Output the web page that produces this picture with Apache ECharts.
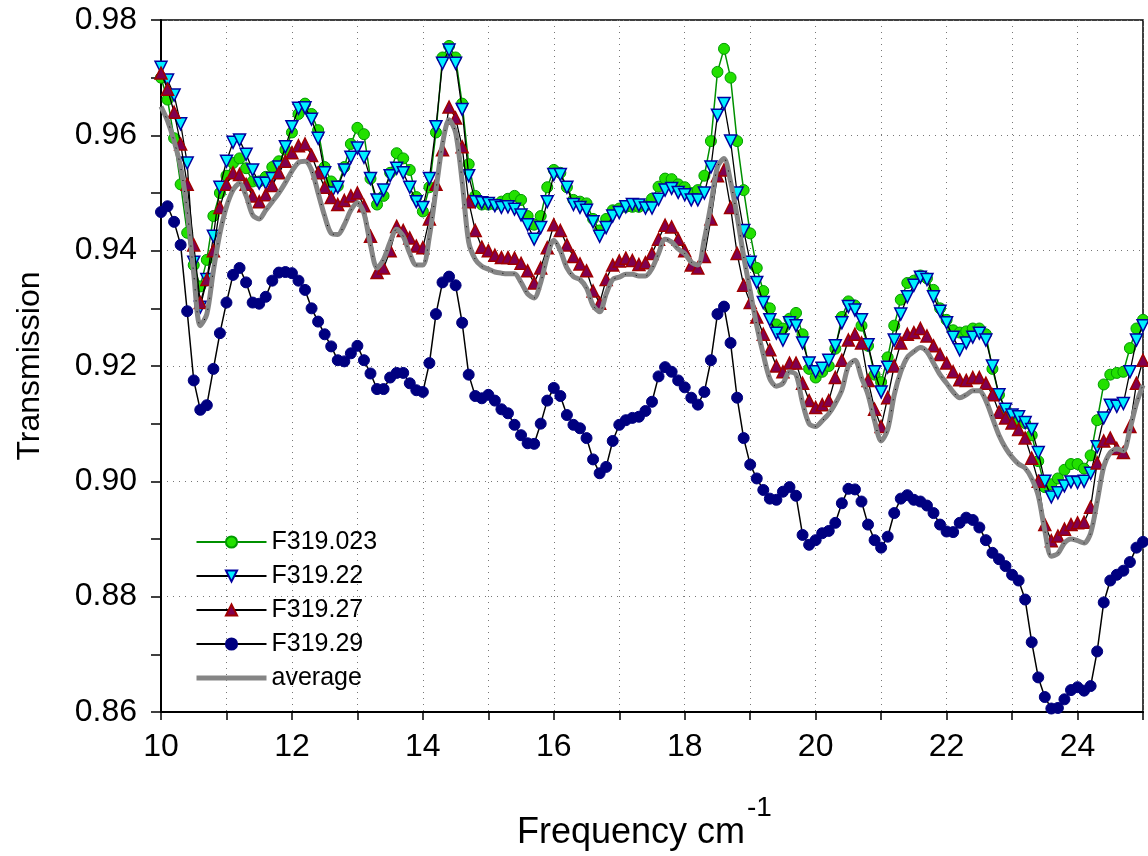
<!DOCTYPE html>
<html>
<head>
<meta charset="utf-8">
<script src="https://cdn.jsdelivr.net/npm/echarts@6/dist/echarts.min.js"></script>
<style>
html,body{margin:0;padding:0;background:#fff;}
#chart{width:1148px;height:856px;}
</style>
</head>
<body>
<div id="chart"></div>
<script>
// Sampling grid: 10.0 .. 25.0 cm^-1, step 0.1 (151 samples)
const freqStart = 10, freqStep = 0.1, freqCount = 151;
const freq = Array.from({length: freqCount}, (_, i) => +(freqStart + i * freqStep).toFixed(1));

const seriesNames = ['F319.023', 'F319.22', 'F319.27', 'F319.29', 'average'];

const f319_023 = [
0.970, 0.9662, 0.9595, 0.9515, 0.9431, 0.9375, 0.9338, 0.9384, 0.946, 0.950,
0.953, 0.9552, 0.956, 0.9543, 0.952, 0.952, 0.9528, 0.9545, 0.9555, 0.9575,
0.9605, 0.9637, 0.9655, 0.9637, 0.9609, 0.9545, 0.952, 0.9512, 0.9545, 0.9585,
0.9613, 0.9602, 0.9525, 0.948, 0.9495, 0.9535, 0.9569, 0.956, 0.954, 0.9493,
0.9468, 0.951, 0.9605, 0.9735, 0.9755, 0.9735, 0.9655, 0.955, 0.9495, 0.948,
0.948, 0.948, 0.9485, 0.949, 0.9495, 0.9488, 0.946, 0.9445, 0.946, 0.951,
0.954, 0.9535, 0.951, 0.9488, 0.9485, 0.9482, 0.9455, 0.9435, 0.9455, 0.947,
0.9473, 0.9476, 0.9476, 0.9476, 0.9478, 0.949, 0.9511, 0.9525, 0.9524, 0.9515,
0.951, 0.950, 0.9505, 0.953, 0.959, 0.971, 0.975, 0.970, 0.959, 0.9505,
0.943, 0.937, 0.933, 0.930, 0.9272, 0.9265, 0.9282, 0.9292, 0.9255, 0.9195,
0.918, 0.919, 0.920, 0.923, 0.9285, 0.9312, 0.9305, 0.927, 0.9235, 0.9185,
0.9172, 0.9215, 0.927, 0.9315, 0.9344, 0.9348, 0.9357, 0.9352, 0.9332, 0.930,
0.928, 0.9262, 0.9258, 0.926, 0.9265, 0.9265, 0.9255, 0.9195, 0.915, 0.9125,
0.911, 0.9103, 0.9101, 0.908, 0.9035, 0.899, 0.8995, 0.9005, 0.902, 0.903,
0.903, 0.9022, 0.9045, 0.9106, 0.9168, 0.9185, 0.9188, 0.919, 0.9231, 0.9265,
0.928];

const f319_22 = [
0.9718, 0.9696, 0.967, 0.962, 0.9552, 0.938, 0.9302, 0.935, 0.9425, 0.951,
0.9555, 0.9588, 0.9592, 0.9567, 0.954, 0.9517, 0.9517, 0.9525, 0.9545, 0.958,
0.9615, 0.9647, 0.9648, 0.9628, 0.9595, 0.9535, 0.950, 0.951, 0.954, 0.9562,
0.9578, 0.9562, 0.9525, 0.9488, 0.9505, 0.953, 0.9543, 0.9535, 0.951, 0.9485,
0.9475, 0.9525, 0.9615, 0.9725, 0.9748, 0.9725, 0.9645, 0.953, 0.9485, 0.9483,
0.9482, 0.9478, 0.9475, 0.9476, 0.9472, 0.9462, 0.9445, 0.942, 0.944, 0.9485,
0.9532, 0.9532, 0.951, 0.948, 0.9475, 0.947, 0.945, 0.9425, 0.944, 0.946,
0.9466, 0.9476, 0.948, 0.9479, 0.9474, 0.9474, 0.9489, 0.9505, 0.9508, 0.9501,
0.9497, 0.9488, 0.9488, 0.950, 0.9545, 0.9635, 0.9655, 0.959, 0.950, 0.9435,
0.938, 0.9345, 0.931, 0.928, 0.9257, 0.9245, 0.9275, 0.927, 0.924, 0.9205,
0.919, 0.9196, 0.921, 0.9235, 0.9275, 0.9303, 0.9297, 0.928, 0.9237, 0.919,
0.9155, 0.9198, 0.9245, 0.929, 0.932, 0.934, 0.9354, 0.935, 0.932, 0.9295,
0.9275, 0.925, 0.9228, 0.924, 0.925, 0.9257, 0.9245, 0.920, 0.915, 0.9125,
0.9115, 0.9112, 0.9102, 0.909, 0.905, 0.900, 0.8973, 0.898, 0.8992, 0.8999,
0.8998, 0.900, 0.9014, 0.906, 0.911, 0.9132, 0.913, 0.9135, 0.919, 0.9245,
0.927];

const f319_27 = [
0.9708, 0.968, 0.964, 0.9585, 0.9515, 0.941, 0.931, 0.935, 0.940, 0.9475,
0.9515, 0.9535, 0.9532, 0.9515, 0.9495, 0.9485, 0.9497, 0.9513, 0.9535, 0.9555,
0.957, 0.9582, 0.9585, 0.9565, 0.9535, 0.951, 0.9492, 0.948, 0.9487, 0.9495,
0.950, 0.9478, 0.9425, 0.9362, 0.937, 0.940, 0.9442, 0.9435, 0.9422, 0.9408,
0.9405, 0.9455, 0.9515, 0.9575, 0.9649, 0.963, 0.958, 0.9485, 0.9435, 0.9406,
0.940, 0.9392, 0.9388, 0.9388, 0.9387, 0.9378, 0.9365, 0.9344, 0.937, 0.9405,
0.9445, 0.9435, 0.941, 0.939, 0.9377, 0.9365, 0.933, 0.9309, 0.935, 0.9375,
0.9382, 0.9387, 0.9383, 0.9376, 0.9379, 0.9395, 0.942, 0.9444, 0.9441, 0.942,
0.940, 0.9375, 0.937, 0.939, 0.9455, 0.953, 0.954, 0.9475, 0.9395, 0.934,
0.931, 0.9285, 0.9255, 0.9228, 0.920, 0.919, 0.9205, 0.9205, 0.917, 0.914,
0.9128, 0.9133, 0.914, 0.918, 0.921, 0.9245, 0.9255, 0.924, 0.9175, 0.9125,
0.9095, 0.9145, 0.920, 0.924, 0.9255, 0.9258, 0.9265, 0.9252, 0.9235, 0.922,
0.9205, 0.919, 0.9176, 0.9175, 0.918, 0.918, 0.917, 0.915, 0.912, 0.911,
0.9101, 0.909, 0.9075, 0.904, 0.900, 0.8925, 0.8897, 0.8905, 0.8917, 0.8925,
0.8928, 0.8929, 0.8955, 0.9032, 0.907, 0.9075, 0.9057, 0.905, 0.9095, 0.917,
0.921];

const f319_29 = [
0.9467, 0.9477, 0.945, 0.941, 0.9295, 0.9175, 0.9124, 0.9132, 0.9195, 0.9257,
0.931, 0.9358, 0.937, 0.9345, 0.931, 0.9308, 0.932, 0.9348, 0.9362, 0.9363,
0.9361, 0.9348, 0.9332, 0.930, 0.9277, 0.9255, 0.9234, 0.921, 0.9208, 0.9222,
0.9235, 0.921, 0.9187, 0.916, 0.916, 0.918, 0.9188, 0.9188, 0.917, 0.9158,
0.9155, 0.9205, 0.929, 0.9345, 0.9355, 0.934, 0.9275, 0.9185, 0.9148, 0.9144,
0.915, 0.914, 0.9125, 0.9118, 0.9098, 0.908, 0.9066, 0.9065, 0.910, 0.914,
0.9162, 0.9148, 0.9115, 0.9098, 0.9092, 0.9075, 0.9038, 0.9014, 0.9025, 0.907,
0.9098, 0.9106, 0.911, 0.9112, 0.9122, 0.9138, 0.9182, 0.9198, 0.919, 0.9175,
0.9163, 0.9145, 0.9133, 0.9155, 0.921, 0.929, 0.9303, 0.924, 0.9145, 0.9075,
0.9029, 0.9005, 0.8985, 0.897, 0.8968, 0.8982, 0.899, 0.8975, 0.8907, 0.889,
0.8898, 0.891, 0.8914, 0.8928, 0.8962, 0.8987, 0.8986, 0.8965, 0.8925, 0.8898,
0.8885, 0.8904, 0.8945, 0.897, 0.8976, 0.8968, 0.8965, 0.8958, 0.8945, 0.8925,
0.8913, 0.8912, 0.8928, 0.8937, 0.8933, 0.892, 0.8898, 0.8876, 0.8865, 0.8853,
0.8838, 0.8828, 0.8795, 0.8721, 0.866, 0.8626, 0.8606, 0.8607, 0.8622, 0.8638,
0.8643, 0.8637, 0.8645, 0.8705, 0.879, 0.8828, 0.8838, 0.8845, 0.886, 0.8885,
0.8895];

const average = [
0.965, 0.9625, 0.959, 0.9545, 0.947, 0.936, 0.927, 0.929, 0.9365, 0.943,
0.9476, 0.9505, 0.9517, 0.9495, 0.9462, 0.9455, 0.947, 0.9485, 0.950, 0.9518,
0.9538, 0.9553, 0.9555, 0.954, 0.950, 0.946, 0.943, 0.9428, 0.9445, 0.947,
0.9483, 0.9465, 0.941, 0.937, 0.9385, 0.9415, 0.9437, 0.9425, 0.9395, 0.9375,
0.9375, 0.9425, 0.9505, 0.9585, 0.9627, 0.9605, 0.952, 0.9415, 0.9385, 0.9373,
0.9368, 0.9363, 0.9361, 0.936, 0.936, 0.9345, 0.9325, 0.9318, 0.9345, 0.939,
0.9418, 0.940, 0.937, 0.9355, 0.935, 0.9335, 0.9305, 0.9294, 0.9325, 0.935,
0.9354, 0.9359, 0.9359, 0.9356, 0.9356, 0.9369, 0.9395, 0.942, 0.9415, 0.9403,
0.9395, 0.938, 0.9375, 0.942, 0.948, 0.9545, 0.956, 0.952, 0.946, 0.939,
0.933, 0.927, 0.922, 0.9178, 0.9165, 0.917, 0.919, 0.9185, 0.9136, 0.910,
0.9095, 0.9105, 0.9117, 0.9135, 0.9158, 0.920, 0.921, 0.918, 0.915, 0.9105,
0.907, 0.909, 0.915, 0.919, 0.9215, 0.9225, 0.9232, 0.9225, 0.9205, 0.9185,
0.917, 0.9155, 0.9145, 0.915, 0.9157, 0.9157, 0.914, 0.911, 0.908, 0.9058,
0.9042, 0.903, 0.9023, 0.9005, 0.8975, 0.8915, 0.887, 0.8875, 0.8893, 0.890,
0.8897, 0.8893, 0.891, 0.8965, 0.9025, 0.905, 0.9056, 0.9053, 0.909, 0.9135,
0.9167];

const xTickLabels = ['10', '12', '14', '16', '18', '20', '22', '24'];

const pair = arr => freq.map((f, i) => [f, arr[i]]);
const FONT = '"Liberation Sans", Arial, Helvetica, sans-serif';

const chart = echarts.init(document.getElementById('chart'), null, {renderer: 'canvas'});

const legendData = seriesNames.map(n => n === 'average'
  ? {name: n, itemStyle: {opacity: 0}, lineStyle: {width: 5, color: '#858585'}}
  : {name: n});

const option = {
  animation: false,
  backgroundColor: '#fff',
  textStyle: {fontFamily: FONT},
  grid: {left: 161, right: 5, top: 20, bottom: 144, show: true, borderColor: '#000', borderWidth: 1.5, backgroundColor: 'transparent'},
  legend: {
    orient: 'vertical', left: 189, top: 524,
    itemWidth: 70, itemHeight: 14, itemGap: 8,
    data: legendData,
    textStyle: {fontSize: 25, color: '#000', fontFamily: FONT, lineHeight: 26},
    inactiveColor: '#ccc'
  },
  xAxis: {
    type: 'value', min: 10, max: 25, interval: 1,
    axisLine: {show: true, onZero: false, lineStyle: {color: '#000', width: 2}},
    axisTick: {show: true, length: 8, lineStyle: {color: '#000', width: 1.5}},
    axisLabel: {fontSize: 32, color: '#000', fontFamily: FONT, margin: 19,
      formatter: v => (xTickLabels.indexOf(String(v)) >= 0 ? String(v) : '')},
    splitLine: {show: true, lineStyle: {color: '#777', width: 1, type: [1, 5]}}
  },
  yAxis: {
    type: 'value', min: 0.86, max: 0.98, interval: 0.02,
    axisLine: {show: true, onZero: false, lineStyle: {color: '#000', width: 2}},
    axisTick: {show: true, length: 10, lineStyle: {color: '#000', width: 1.5}},
    minorTick: {show: true, splitNumber: 2, length: 10, lineStyle: {color: '#000', width: 1.5}},
    axisLabel: {fontSize: 32, color: '#000', fontFamily: FONT, margin: 24, formatter: v => v.toFixed(2)},
    splitLine: {show: true, lineStyle: {color: '#777', width: 1, type: [1, 5]}}
  },
  graphic: [
    {type: 'text', x: 30, y: 366, rotation: Math.PI / 2, silent: true,
     style: {text: 'Transmission', fontSize: 32, fontFamily: FONT, fill: '#000', align: 'center', verticalAlign: 'middle'}},
    {type: 'text', x: 745, y: 833, silent: true,
     style: {text: 'Frequency cm', fontSize: 36, fontFamily: FONT, fill: '#000', align: 'right', verticalAlign: 'middle'}},
    {type: 'text', x: 747, y: 808, silent: true,
     style: {text: '-1', fontSize: 28, fontFamily: FONT, fill: '#000', align: 'left', verticalAlign: 'middle'}}
  ],
  series: [
    {name: 'F319.023', type: 'line', data: pair(f319_023), symbol: 'circle', symbolSize: 11,
     lineStyle: {color: '#009000', width: 1.5},
     itemStyle: {color: '#22e000', borderColor: '#009a00', borderWidth: 1}, z: 2},
    {name: 'F319.22', type: 'line', data: pair(f319_22), symbol: 'triangle', symbolRotate: 180, symbolSize: 12,
     lineStyle: {color: '#000', width: 1.3},
     itemStyle: {color: '#00f0ff', borderColor: '#0000a0', borderWidth: 1.5}, z: 3},
    {name: 'F319.27', type: 'line', data: pair(f319_27), symbol: 'triangle', symbolSize: 12,
     lineStyle: {color: '#000', width: 1.3},
     itemStyle: {color: '#800050', borderColor: '#a00000', borderWidth: 1.5}, z: 4},
    {name: 'F319.29', type: 'line', data: pair(f319_29), symbol: 'circle', symbolSize: 11,
     lineStyle: {color: '#000', width: 1.5},
     itemStyle: {color: '#000080', borderColor: '#000080', borderWidth: 1}, z: 5},
    {name: 'average', type: 'line', data: pair(average), showSymbol: false, symbol: 'none', smooth: 0.3,
     lineStyle: {color: '#858585', width: 5},
     itemStyle: {color: '#858585'}, z: 6},
    {name: 'avgDots', type: 'line', data: pair(average), showSymbol: false, symbol: 'none', smooth: 0.3,
     lineStyle: {color: '#000', width: 1, type: [1, 10]}, silent: true, z: 7}
  ]
};
chart.setOption(option);
</script>
</body>
</html>
